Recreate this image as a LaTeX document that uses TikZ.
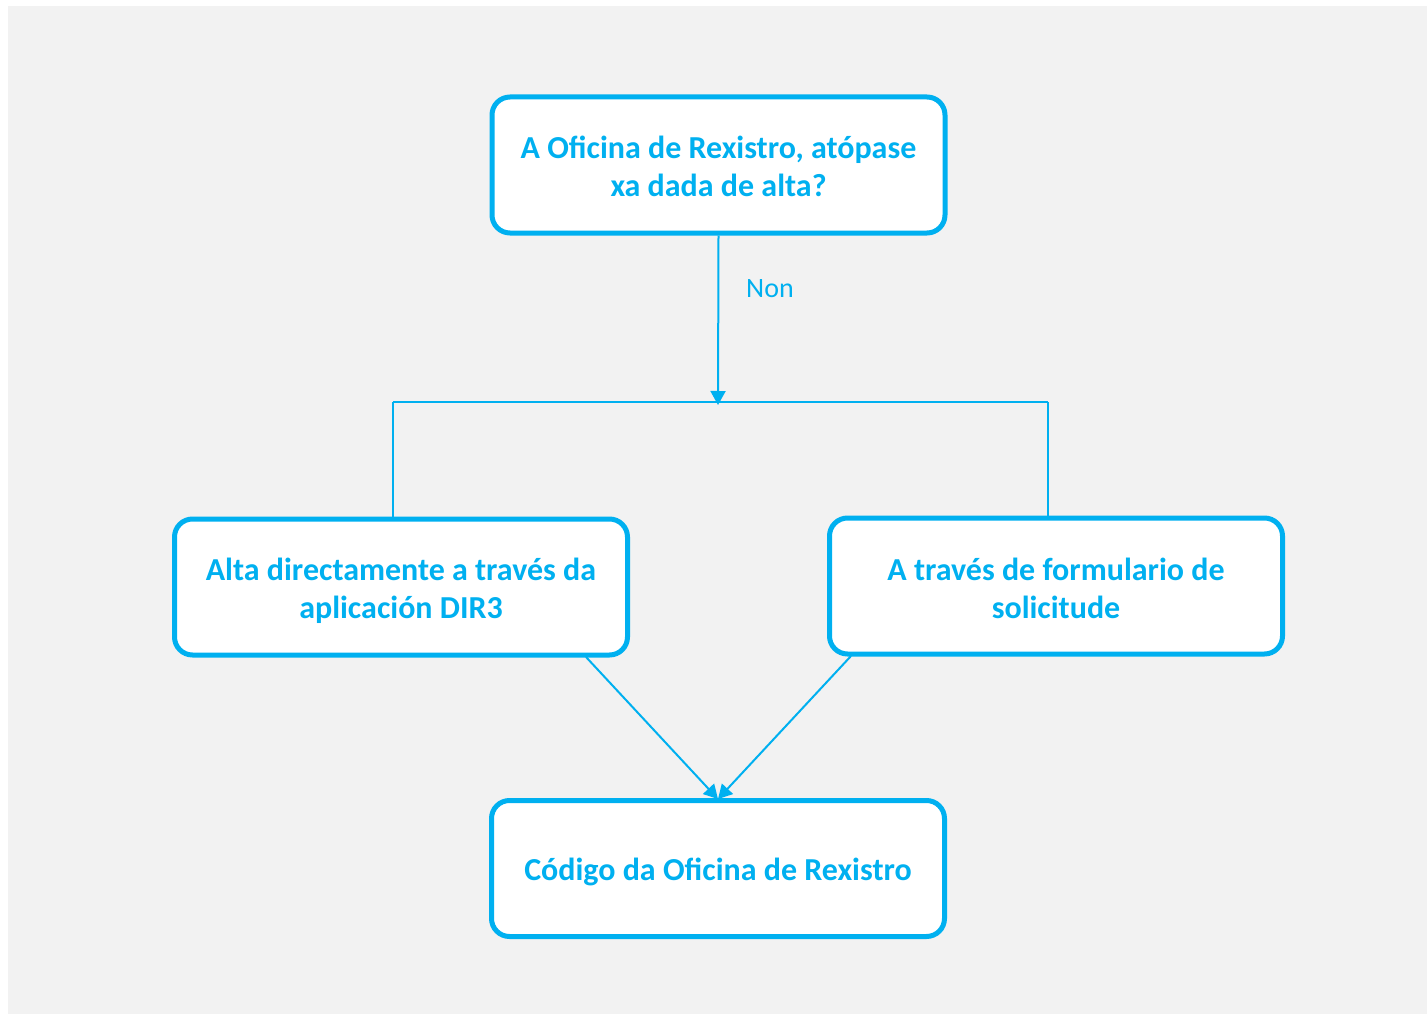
\documentclass[tikz,border=0pt]{standalone}
\usepackage{fontspec}
\setmainfont{Carlito}
\usetikzlibrary{arrows.meta}
\definecolor{cyanblue}{HTML}{00B0F0}
\definecolor{bggray}{HTML}{F2F2F2}
\tikzset{
  flowbox/.style={draw=cyanblue, line width=5pt, fill=white, rounded corners=18pt,
    minimum width=453pt, minimum height=136pt, inner sep=0pt},
  boxtext/.style={text=cyanblue, align=center, inner sep=0pt,
    font=\fontsize{32}{38}\selectfont\bfseries},
  conn/.style={draw=cyanblue, line width=2pt},
  arr/.style={conn, -{Triangle[length=14pt,width=15pt]}}
}
\begin{document}
\begin{tikzpicture}[x=1pt,y=-1pt]
\useasboundingbox[fill=white] (0,0) rectangle (1427,1014);
\fill[bggray] (8,6) rectangle (1427,1014);
\node[flowbox] (q) at (718.5,165) {};
\node[boxtext] (qt) at ([yshift=-1pt]q.center) {A Oficina de Rexistro, atópase\\xa dada de alta?};
\node[flowbox] (l) at (401,587) {};
\node[boxtext] (lt) at ([yshift=-3.5pt]l.center) {Alta directamente a través da\\aplicación DIR3};
\node[flowbox] (r) at (1056,586) {};
\node[boxtext] (rt) at ([yshift=-2.5pt]r.center) {A través de formulario de\\solicitude};
\node[flowbox] (c) at (718,868.5) {};
\node[boxtext] (ct) at ([yshift=-3pt]c.center) {Código da Oficina de Rexistro};
\coordinate (j) at (718,405);
\coordinate (jl) at (393,402);
\coordinate (jr) at (1048,402);
\draw[arr] (q.south) -- (j);
\node[text=cyanblue, font=\fontsize{28}{32}\selectfont, anchor=west, inner sep=0pt] (non) at (746,289) {Non};
\draw[conn] (jl) -- (jr);
\draw[conn] (jl) -- (l.north -| jl);
\draw[conn] (jr) -- ([yshift=-3pt]r.north -| jr);
\coordinate (lb) at (586,657);
\coordinate (rb) at (851,656);
\coordinate (cm) at (718,799);
\draw[arr] (lb) -- (cm);
\draw[arr] (rb) -- (cm);
\end{tikzpicture}
\end{document}
